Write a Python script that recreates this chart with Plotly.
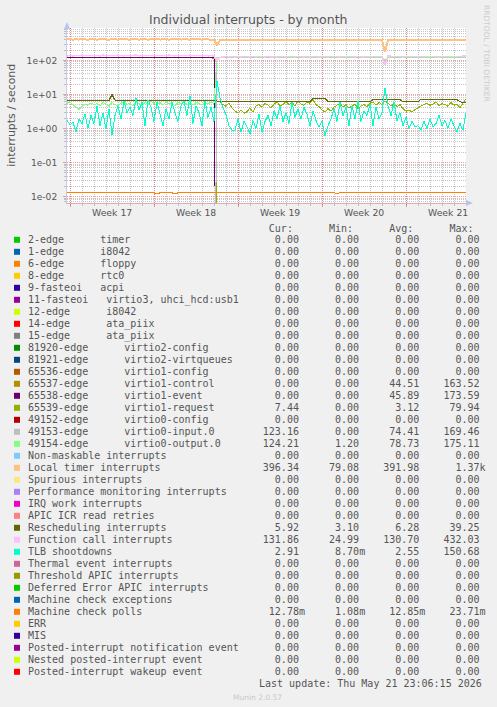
import plotly.graph_objects as go
from datetime import datetime, timedelta

# ---------------- data ----------------
START = datetime(2026, 4, 19, 18, 0)
STEP_HOURS = 6
N_SAMPLES = 134
sample_times = [START + timedelta(hours=STEP_HOURS * i) for i in range(N_SAMPLES)]

week_numbers = [17, 18, 19, 20, 21]
week_year = 2026

# Local timer interrupts (full range)
local_timer = [410, 412, 408, 411, 409, 413, 410, 408, 412, 410,
               409, 411, 414, 410, 408, 412, 410, 409, 413, 411,
               410, 408, 412, 411, 409, 410, 413, 408, 411, 410,
               412, 409, 410, 411, 408, 413, 410, 412, 409, 411,
               410, 408, 412, 410, 411, 409, 413, 410, 408, 405,
               280,
               395, 402, 404, 401, 403, 400, 402, 404, 401,
               403, 400, 402, 401, 404, 399, 402, 403, 400, 402,
               401, 403, 400, 402, 398, 392, 388, 386, 389, 387,
               390, 388, 395, 398, 400, 402, 399, 401, 403, 400,
               402, 399, 401, 403, 400, 402, 398, 401, 403, 400,
               401, 399, 402, 400, 398, 396, 180, 385, 398, 401,
               402, 400, 403, 401, 399, 402, 400, 403, 401, 398,
               400, 402, 399, 401, 403, 400, 398, 402, 400, 401,
               399, 402, 400, 396]

# Function call interrupts (full range)
function_call = [136, 138, 135, 140, 137, 142, 136, 139, 141, 137,
                 138, 135, 143, 137, 140, 136, 139, 142, 138, 136,
                 140, 137, 139, 144, 136, 138, 141, 137, 140, 139,
                 137, 140, 136, 139, 143, 138, 136, 141, 137, 139,
                 138, 142, 136, 140, 137, 139, 141, 136, 138, 134,
                 100,
                 122, 126, 128, 127, 129, 126, 128, 127, 129,
                 128, 126, 129, 127, 128, 130, 127, 129, 126, 128,
                 127, 129, 128, 126, 130, 128, 127, 129, 128, 126,
                 129, 127, 128, 130, 126, 128, 129, 127, 128, 130,
                 128, 126, 129, 127, 128, 130, 127, 129, 128, 126,
                 129, 128, 127, 130, 132, 128, 75, 135, 132, 130,
                 128, 130, 127, 129, 131, 128, 130, 127, 129, 128,
                 130, 128, 131, 129, 127, 130, 128, 132, 129, 131,
                 130, 128, 133, 132]

# virtio1-control / virtio1-event (samples 0..50, then zero)
virtio1_control = [118, 119, 117, 118, 120, 118, 117, 119, 118, 118,
                   119, 117, 118, 120, 118, 119, 117, 118, 119, 118,
                   118, 120, 117, 119, 118, 118, 119, 117, 120, 118,
                   119, 118, 117, 119, 118, 120, 118, 117, 119, 118,
                   118, 119, 117, 118, 120, 118, 119, 117, 118, 116,
                   0]
virtio1_event = [122, 123, 121, 122, 124, 122, 121, 123, 122, 122,
                 123, 121, 122, 124, 122, 123, 121, 122, 123, 122,
                 122, 124, 121, 123, 122, 122, 123, 121, 124, 122,
                 123, 122, 121, 123, 122, 124, 122, 121, 123, 122,
                 122, 123, 121, 122, 124, 122, 123, 121, 122, 120,
                 0]

# virtio1-request and virtio0-input.0 (samples 49..133, zero before)
virtio1_request = [0, 6.0, 6.0, 5.0, 4.5, 5.5, 4.0,
                   3.2, 2.9, 3.5, 2.8, 3.1, 4.0, 3.0,
                   4.5, 5.0, 4.2, 5.5, 4.8, 4.0, 5.2, 6.0, 4.6, 5.0,
                   6.2, 5.0, 5.8, 4.6, 6.5, 5.2, 4.8, 6.0, 5.5, 6.8, 5.0, 4.4,
                   3.5, 3.0, 3.8, 3.2, 4.2,
                   4.8, 5.5, 4.2, 5.0, 4.0, 4.6, 5.2, 3.8, 4.5, 5.0, 4.3,
                   5.5, 6.0, 4.8, 5.8, 5.0, 6.5, 5.5, 4.6, 5.2, 4.4, 5.0,
                   3.8, 3.2, 3.5, 3.0, 3.6, 4.0, 4.5,
                   5.0, 5.5, 4.8, 5.2, 6.0, 4.6, 5.4, 5.0, 4.5, 5.8, 4.8, 5.2, 4.0, 5.5, 7.4]
virtio0_input = [0,
                 118, 121, 120, 122, 119, 121, 120, 118, 122, 120,
                 121, 119, 122, 120, 118, 121, 120, 122, 119, 121,
                 120, 118, 122, 121, 119, 120, 122, 118, 121, 120,
                 119, 121, 120, 122, 118, 121, 120, 119, 122, 120,
                 121, 119, 120, 122, 118, 121, 120, 122, 119, 121,
                 120, 118, 122, 121, 119, 120, 95, 118, 121, 120,
                 122, 119, 121, 120, 118, 122, 120, 121, 119, 120,
                 121, 118, 122, 120, 119, 121, 120, 122, 118, 121,
                 120, 122, 119, 123]

# virtio0-output.0 (full range)
virtio0_output = [5.5, 6.0, 5.0, 4.2, 3.6, 4.5, 5.2, 4.8, 5.6, 5.0,
                  5.4, 4.6, 5.8, 5.2, 4.4, 6.0, 5.0, 4.7, 5.5, 6.2,
                  5.0, 5.6, 4.5, 6.0, 5.3, 4.8, 5.8, 5.1, 6.3, 5.4,
                  5.0, 5.7, 4.9, 6.1, 5.2, 5.5, 4.6, 5.9, 5.3, 6.0,
                  5.1, 5.6, 4.8, 5.8, 5.4, 5.0, 5.7, 5.3, 5.9, 5.5,
                  122, 125, 124, 126, 123, 125, 124, 123, 126, 124,
                  125, 123, 126, 124, 122, 125, 124, 126, 123, 125,
                  124, 122, 126, 125, 123, 124, 126, 122, 125, 124,
                  123, 125, 124, 126, 122, 125, 124, 123, 126, 124,
                  125, 123, 124, 126, 122, 125, 124, 126, 123, 125,
                  124, 122, 126, 125, 123, 124, 105, 122, 125, 124,
                  126, 123, 125, 124, 122, 126, 124, 125, 123, 124,
                  125, 122, 126, 124, 123, 125, 124, 126, 122, 125,
                  124, 126, 123, 124]

# Rescheduling interrupts (full range)
rescheduling = [6.6, 6.5, 6.7, 6.6, 6.8, 6.5, 6.6, 6.7, 6.6, 6.5,
                6.7, 6.6, 6.5, 6.8, 6.6, 9.9, 6.7, 6.5, 6.6, 6.7,
                6.6, 6.5, 6.7, 6.6, 6.8, 6.6, 6.5, 6.7, 6.6, 6.6,
                6.5, 6.7, 6.6, 6.8, 6.6, 6.5, 6.7, 6.6, 6.5, 6.7,
                6.6, 6.8, 6.6, 6.5, 6.7, 6.6, 6.6, 6.5, 6.7, 6.6,
                6.4, 6.2, 6.1, 6.2, 6.3, 6.2, 6.1, 6.2, 6.2, 6.3,
                6.2, 6.1, 6.2, 6.3, 6.2, 6.2, 6.1, 6.2, 6.3, 6.2,
                6.2, 6.1, 6.2, 6.2, 6.3, 6.2, 6.1, 6.2, 6.2, 6.3,
                6.2, 6.1, 7.7, 7.8, 7.7, 7.6, 7.7, 6.2, 6.1, 6.2,
                6.3, 6.2, 6.2, 6.1, 6.2, 6.3, 6.2, 6.1, 6.2, 6.2,
                6.3, 6.2, 7.0, 7.1, 7.0, 6.9, 7.0, 7.1, 7.0, 7.0,
                6.9, 7.0, 6.2, 6.1, 6.2, 6.3, 6.2, 6.1, 7.2, 7.3,
                7.2, 7.1, 7.2, 7.3, 7.2, 7.2, 7.1, 7.3, 7.2, 7.2,
                7.1, 6.0, 5.9, 5.92]

# TLB shootdowns (full range)
tlb_shootdowns = [1.7, 1.3, 1.5, 0.8, 1.9, 1.4,
                  2.6, 1.0, 2.4, 1.4, 4.6, 1.2,
                  2.9, 0.95, 3.8, 0.65, 2.4,
                  4.6, 1.9, 6.5, 2.9, 4.2, 2.4,
                  8.0, 3.4, 5.9, 1.2, 7.0,
                  4.2, 1.6, 5.9, 2.6, 1.2, 3.8,
                  1.9, 5.9, 2.9, 1.6, 4.6,
                  6.5, 2.4, 9.0, 1.4, 4.6, 2.9,
                  1.2, 6.5, 2.1, 4.2, 1.6,
                  24.0,
                  8.0, 4.0, 2.5, 1.2, 0.9,
                  0.9, 1.9, 0.78, 1.6, 1.1, 0.7,
                  1.7, 1.0, 2.6, 0.78, 1.6,
                  2.4, 1.2, 3.3, 1.9, 4.6, 1.6,
                  2.9, 1.4, 5.9, 2.1, 3.8,
                  1.9, 4.2, 2.6, 1.2, 3.3, 1.7,
                  1.1, 1.6, 0.62, 1.2, 1.9,
                  3.8, 1.6, 5.9, 2.4, 4.2, 1.2,
                  4.6, 1.9, 6.5, 1.6, 3.3,
                  2.4, 5.3, 1.2, 4.2, 1.9, 2.9,
                  15.0,
                  4.6, 2.4, 5.9, 1.7,
                  2.9, 1.2, 2.1, 1.0, 1.6, 1.1,
                  1.2, 0.9, 1.6, 1.0, 1.9, 1.1,
                  1.4, 2.4, 1.2, 1.7, 1.0,
                  1.9, 1.2, 0.8, 1.4, 0.9, 2.9]

# Machine check polls (full range)
machine_check_polls = [0.0128, 0.0129, 0.0128, 0.0127, 0.0128, 0.0129, 0.0128, 0.0128, 0.0127, 0.0128,
                       0.0129, 0.0128, 0.0128, 0.0127, 0.0128, 0.0129, 0.0128, 0.0128, 0.0127, 0.0128,
                       0.0128, 0.0129, 0.0128, 0.0127, 0.0128, 0.0128, 0.0129, 0.0128, 0.0127, 0.0128,
                       0.0122, 0.0128, 0.0129, 0.0128, 0.0127, 0.0128, 0.0122, 0.0128, 0.0129, 0.0128,
                       0.0128, 0.0127, 0.0128, 0.0129, 0.0128, 0.0128, 0.0127, 0.0128, 0.0129, 0.0128,
                       0.0128, 0.0127, 0.0128, 0.0129, 0.0128, 0.0128, 0.0127, 0.0128, 0.0129, 0.0128,
                       0.0128, 0.0129, 0.0128, 0.0127, 0.0128, 0.0128, 0.0129, 0.0128, 0.0127, 0.0128,
                       0.0129, 0.0128, 0.0128, 0.0127, 0.0128, 0.0129, 0.0128, 0.0128, 0.0127, 0.0128,
                       0.0128, 0.0129, 0.0128, 0.0127, 0.0128, 0.0128, 0.0129, 0.0128, 0.0127, 0.0128,
                       0.0123, 0.0128, 0.0129, 0.0128, 0.0127, 0.0128, 0.0128, 0.0129, 0.0128, 0.0127,
                       0.0128, 0.0129, 0.0128, 0.0128, 0.0127, 0.0128, 0.0129, 0.0128, 0.0128, 0.0127,
                       0.0128, 0.0128, 0.0129, 0.0128, 0.0127, 0.0128, 0.0129, 0.0128, 0.0128, 0.0127,
                       0.0128, 0.0129, 0.0128, 0.0128, 0.0127, 0.0128, 0.0129, 0.0128, 0.0128, 0.0127,
                       0.0128, 0.0128, 0.0129, 0.0128]

# ---------------- legend table ----------------
legend_labels = [
    "2-edge      timer", "1-edge      i8042", "6-edge      floppy", "8-edge      rtc0",
    "9-fasteoi   acpi", "11-fasteoi   virtio3, uhci_hcd:usb1", "12-edge      i8042",
    "14-edge      ata_piix", "15-edge      ata_piix",
    "81920-edge      virtio2-config", "81921-edge      virtio2-virtqueues",
    "65536-edge      virtio1-config", "65537-edge      virtio1-control",
    "65538-edge      virtio1-event", "65539-edge      virtio1-request",
    "49152-edge      virtio0-config", "49153-edge      virtio0-input.0",
    "49154-edge      virtio0-output.0",
    "Non-maskable interrupts", "Local timer interrupts", "Spurious interrupts",
    "Performance monitoring interrupts", "IRQ work interrupts", "APIC ICR read retries",
    "Rescheduling interrupts", "Function call interrupts", "TLB shootdowns",
    "Thermal event interrupts", "Threshold APIC interrupts", "Deferred Error APIC interrupts",
    "Machine check exceptions", "Machine check polls", "ERR", "MIS",
    "Posted-interrupt notification event", "Nested posted-interrupt event",
    "Posted-interrupt wakeup event",
]
legend_colors = [
    "#00CC00", "#0066B3", "#FF8000", "#FFCC00", "#330099", "#990099", "#CCFF00", "#FF0000",
    "#808080", "#008F00", "#00487D", "#B35A00", "#B38F00", "#6B006B", "#8FB300", "#B30000",
    "#BEBEBE", "#80FF80", "#80C9FF", "#FFC080", "#FFE680", "#AA80FF", "#EE00CC", "#FF8080",
    "#666600", "#FFBFFF", "#00FFCC", "#CC6699", "#999900", "#00CC00", "#0066B3", "#FF8000",
    "#FFCC00", "#330099", "#990099", "#CCFF00", "#FF0000",
]
Z = "0.00"
cur_vals = [Z] * 12 + [Z, Z, "7.44", Z, "123.16", "124.21", Z, "396.34", Z, Z, Z, Z,
            "5.92", "131.86", "2.91", Z, Z, Z, Z, "12.78m", Z, Z, Z, Z, Z]
min_vals = [Z] * 12 + [Z, Z, Z, Z, Z, "1.20", Z, "79.08", Z, Z, Z, Z,
            "3.10", "24.99", "8.70m", Z, Z, Z, Z, "1.08m", Z, Z, Z, Z, Z]
avg_vals = [Z] * 12 + ["44.51", "45.89", "3.12", Z, "74.41", "78.73", Z, "391.98", Z, Z, Z, Z,
            "6.28", "130.70", "2.55", Z, Z, Z, Z, "12.85m", Z, Z, Z, Z, Z]
max_vals = [Z] * 12 + ["163.52", "173.59", "79.94", Z, "169.46", "175.11", Z, "1.37k", Z, Z, Z, Z,
                       "39.25", "432.03", "150.68", Z, Z, Z, Z, "23.71m", Z, Z, Z, Z, Z]
column_headers = ["Cur:", "Min:", "Avg:", "Max:"]
last_update = "Last update: Thu May 21 23:06:15 2026"
title_text = "Individual interrupts - by month"
y_title = "interrupts / second"
y_tick_values = [1e-2, 1e-1, 1e0, 1e1, 1e2]
y_tick_text = ["1e-02", "1e-01", "1e+00", "1e+01", "1e+02"]

# ---------------- figure geometry ----------------
W, H = 497, 707
PL, PR, PT, PB = 67, 466, 28, 203  # plot area in pixels
TEXT = "#555555"
MONO = "DejaVu Sans Mono"
SANS = "DejaVu Sans"


def fx(px):
    return (px - PL) / (PR - PL)


def fy(py):
    return (PB - py) / (PB - PT)


def for_log(vals):
    # zero cannot be shown on a log axis: push it far below the visible range
    return [v if v > 0 else 1e-9 for v in vals]


fig = go.Figure()

series = [
    (sample_times[:51], virtio1_control, "#B38F00", 1),
    (sample_times[:51], virtio1_event, "#6B006B", 1),
    (sample_times[49:], virtio1_request, "#8FB300", 1),
    (sample_times[49:], virtio0_input, "#BEBEBE", 1),
    (sample_times, virtio0_output, "#80FF80", 1),
    (sample_times, local_timer, "#FFC080", 2),
    (sample_times, rescheduling, "#666600", 1),
    (sample_times, function_call, "#FFBFFF", 1.5),
    (sample_times, tlb_shootdowns, "#00FFCC", 1),
    (sample_times, machine_check_polls, "#FF8000", 1),
]
for xs, ys, col, lw in series:
    fig.add_trace(go.Scatter(x=xs, y=for_log(ys), mode="lines",
                             line=dict(color=col, width=lw, simplify=False),
                             showlegend=False, hoverinfo="skip"))

week_starts = [datetime.fromisocalendar(week_year, w, 1) for w in week_numbers]
week_mids = [d + timedelta(days=3, hours=12) for d in week_starts]
x_range = [sample_times[0], sample_times[-1]]

minor_y = [k * 10.0 ** e for e in range(-3, 3) for k in range(2, 10)]

MAJOR = "rgba(235,80,80,0.55)"
MINOR = "rgba(150,150,150,0.55)"

fig.update_layout(
    template="none",
    width=W, height=H,
    margin=dict(l=PL, r=W - PR, t=PT, b=H - PB, autoexpand=False),
    paper_bgcolor="#F0F0F0", plot_bgcolor="#FFFFFF",
    showlegend=False,
    xaxis=dict(type="date", range=x_range, automargin=False,
               tickmode="array", tickvals=week_starts, showticklabels=False,
               ticks="outside", ticklen=3, tickcolor=MAJOR,
               showgrid=True, gridcolor=MAJOR, griddash="1px,1px", gridwidth=1,
               showline=True, linecolor="#E0A8B0", linewidth=1,
               zeroline=False,
               minor=dict(tickmode="linear", tick0="2026-04-20", dtick=86400000,
                          showgrid=True, gridcolor=MINOR, griddash="1px,1px",
                          ticks="outside", ticklen=2, tickcolor=MINOR)),
    yaxis=dict(type="log", range=[-2.19, 2.95], automargin=False,
               tickmode="array", tickvals=y_tick_values, ticktext=y_tick_text,
               tickfont=dict(family=SANS, size=9.1, color=TEXT),
               ticks="outside", ticklen=3, tickcolor=MAJOR, ticklabelstandoff=4,
               showgrid=True, gridcolor=MAJOR, griddash="1px,1px",
               showline=True, linecolor="#C8C8F0", linewidth=1, zeroline=False,
               minor=dict(tickmode="array", tickvals=minor_y, showgrid=True,
                          gridcolor=MINOR, griddash="1px,1px",
                          ticks="outside", ticklen=2, tickcolor=MINOR)),
)

ann = []
# week labels, centred on each week
for w, mid in zip(week_numbers, week_mids):
    ann.append(dict(x=mid, y=fy(212.5), xref="x", yref="paper", text="Week %d" % w,
                    showarrow=False, xanchor="center", yanchor="middle",
                    font=dict(family=SANS, size=9.3, color=TEXT)))
# title
ann.append(dict(x=fx(248.5), y=fy(19), xref="paper", yref="paper", text=title_text,
                showarrow=False, xanchor="center", yanchor="middle",
                font=dict(family=SANS, size=12.5, color=TEXT)))
# y title
ann.append(dict(x=fx(10.7), y=fy(115), xref="paper", yref="paper", text=y_title,
                showarrow=False, xanchor="center", yanchor="middle", textangle=-90,
                font=dict(family=SANS, size=10.9, color=TEXT)))
# side watermark
ann.append(dict(x=fx(487), y=fy(53), xref="paper", yref="paper", text="RRDTOOL / TOBI OETIKER",
                showarrow=False, xanchor="center", yanchor="middle", textangle=90,
                font=dict(family=SANS, size=7.5, color="#CCCCCC")))

NB = "\u00a0"
LABEL_W, COL_W = 36, 10
TX0 = 25.5

header = " " * (LABEL_W - 2) + "".join(h.rjust(COL_W) for h in column_headers)
ann.append(dict(x=fx(TX0), y=fy(228.3), xref="paper", yref="paper",
                text=header.replace(" ", NB), showarrow=False,
                xanchor="left", yanchor="middle",
                font=dict(family=MONO, size=10, color=TEXT)))


def fmt(v):
    return v if v[-1] in "mk" else v + " "


shapes = []
for k, lab in enumerate(legend_labels):
    yc = 239.8 + 12 * k
    row = lab.ljust(LABEL_W) + "".join(fmt(v[k]).rjust(COL_W)
                                       for v in (cur_vals, min_vals, avg_vals, max_vals))
    ann.append(dict(x=fx(TX0), y=fy(yc), xref="paper", yref="paper",
                    text=row.rstrip().replace(" ", NB), showarrow=False,
                    xanchor="left", yanchor="middle",
                    font=dict(family=MONO, size=10, color=TEXT)))
    shapes.append(dict(type="rect", xref="paper", yref="paper",
                       x0=fx(14), x1=fx(20), y0=fy(yc + 3), y1=fy(yc - 3),
                       fillcolor=legend_colors[k], line=dict(width=0)))

ann.append(dict(x=fx(484), y=fy(683.5), xref="paper", yref="paper",
                text=last_update.replace(" ", NB), showarrow=False,
                xanchor="right", yanchor="middle",
                font=dict(family=MONO, size=10, color=TEXT)))
ann.append(dict(x=fx(257), y=fy(697), xref="paper", yref="paper", text="Munin 2.0.57",
                showarrow=False, xanchor="center", yanchor="middle",
                font=dict(family=SANS, size=7.5, color="#C8C8C8")))

# axis arrows
ARROW = "#B8C4F0"
shapes.append(dict(type="path", xref="paper", yref="paper",
                   path="M %f %f L %f %f L %f %f Z" % (fx(64), fy(29), fx(70), fy(29), fx(67), fy(22)),
                   fillcolor=ARROW, line=dict(width=0)))
shapes.append(dict(type="path", xref="paper", yref="paper",
                   path="M %f %f L %f %f L %f %f Z" % (fx(466), fy(200), fx(466), fy(206), fx(473), fy(203)),
                   fillcolor=ARROW, line=dict(width=0)))

fig.update_layout(annotations=ann, shapes=shapes)

# page tweaks: no 8px body margin, and crisp data lines like rrdtool draws
POST = ("document.body.style.margin='0';"
        "document.body.style.background='#F0F0F0';"
        "document.querySelectorAll('.scatterlayer path.js-line').forEach("
        "function(p){p.style.shapeRendering='crispEdges';});")
fig.write_html("out.html", post_script=POST,
               config={"displayModeBar": False, "staticPlot": True})
